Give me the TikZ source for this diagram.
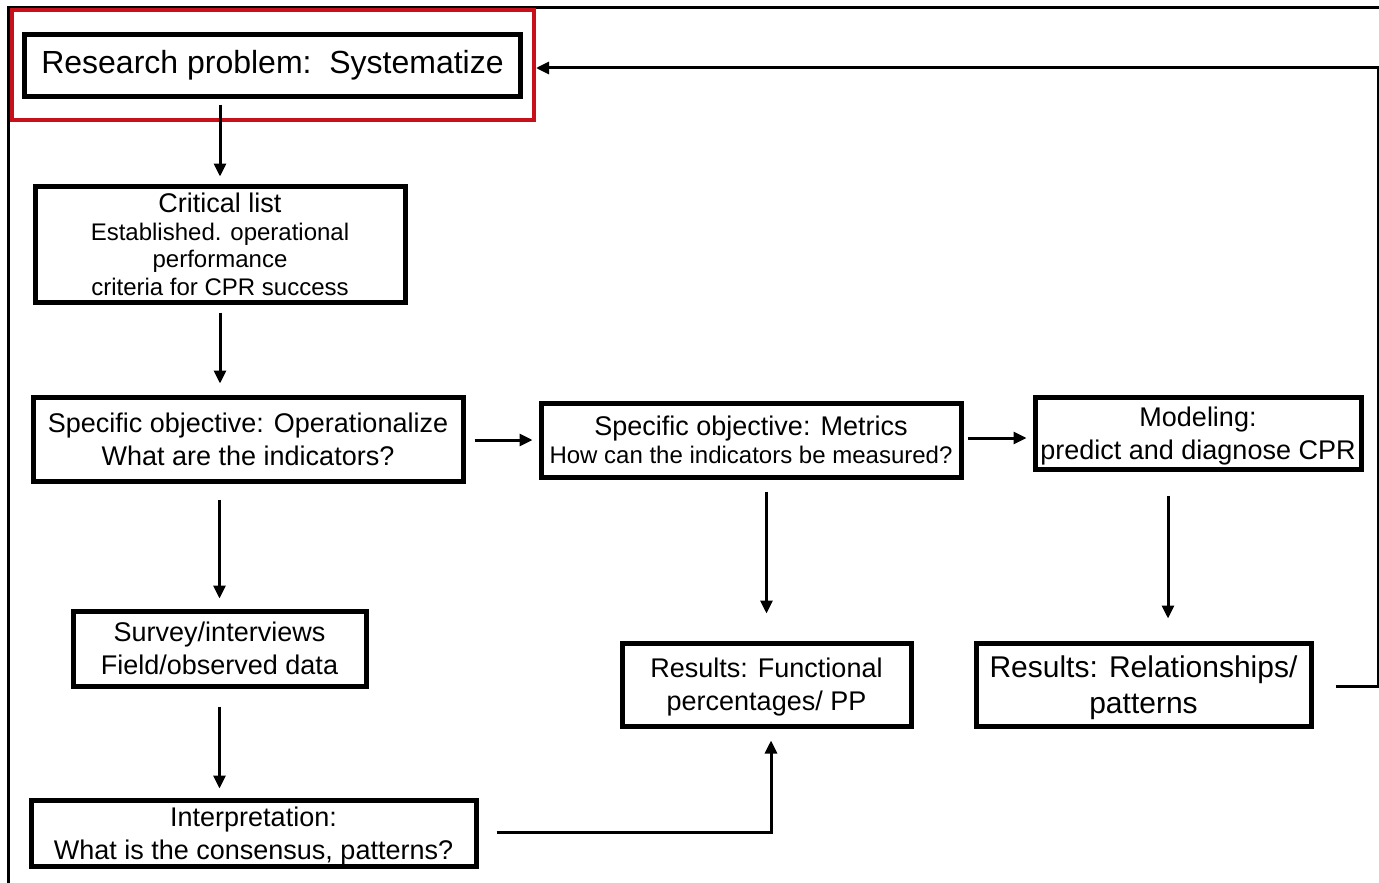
\documentclass[tikz,border=0pt]{standalone}
\usepackage{fontspec}
\setmainfont{Liberation Sans}
\usetikzlibrary{arrows.meta}
\definecolor{boxred}{HTML}{C8101A}
\begin{document}
\begin{tikzpicture}[x=1pt,y=-1pt,
  box/.style={draw=black,line width=5pt,rectangle,inner sep=0pt,align=center,
    text depth=0pt,font=\fontsize{27}{33}\selectfont},
  arr/.style={line width=3pt,-{Triangle[length=13pt,width=12pt]}}]
\useasboundingbox (0,0) rectangle (1379,883);
% outer frame
\draw[line width=3pt] (8,883) -- (8,8) -- (1379,8);
% red highlight
\draw[boxred,line width=4pt] (11.5,10.5) rectangle (533.5,119.5);

\node[box,text depth=,minimum width=496pt,minimum height=61pt,font=\fontsize{32}{36}\selectfont] (rp) at (272.5,65.5) {Research problem:\ \ Systematize};
\node[box,minimum width=370pt,minimum height=116pt,font=\fontsize{24}{27.5}\selectfont] (cl) at (220,244)
  {{\fontsize{27}{27.5}\selectfont Critical list}\\Established. operational\\performance\\criteria for CPR success};
\node[box,minimum width=430pt,minimum height=84pt] (so) at (248,439)
  {Specific objective: Operationalize\\What are the indicators?};
\node[box,minimum width=420pt,minimum height=74pt,font=\fontsize{24}{28}\selectfont] (me) at (751,440)
  {{\fontsize{27}{28}\selectfont Specific objective: Metrics}\\How can the indicators be measured?};
\node[box,minimum width=326pt,minimum height=72pt] (mo) at (1198,433)
  {Modeling:\\predict and diagnose CPR};
\node[box,minimum width=293pt,minimum height=75pt] (sv) at (219.5,648.5)
  {Survey/interviews\\Field/observed data};
\node[box,minimum width=289pt,minimum height=83pt] (rf) at (766.5,684.5)
  {Results: Functional\\percentages/ PP};
\node[box,minimum width=335pt,minimum height=83pt,font=\fontsize{30}{36}\selectfont] (rr) at (1143.5,684.5)
  {Results: Relationships/\\patterns};
\node[box,minimum width=445pt,minimum height=66pt] (ip) at (253.5,833)
  {Interpretation:\\What is the consensus, patterns?};

% connectors
\draw[arr,shorten <=6pt,shorten >=7pt] (rp.south -| cl.north) -- (cl.north);
\draw[arr,shorten <=8pt,shorten >=11pt] (cl.south) -- (cl.south |- so.north);
\draw[arr,shorten <=16pt,shorten >=10pt] (so.south -| sv.north) -- (sv.north);
\draw[arr,shorten <=18pt,shorten >=9pt] (sv.south) -- (sv.south |- ip.north);
\draw[arr,shorten <=9pt,shorten >=6pt] (so.east |- me.west) -- (me.west);
\draw[arr,shorten <=4pt,shorten >=6pt] (me.east |- 0,438) -- (mo.west |- 0,438);
\draw[arr,shorten <=12pt,shorten >=27pt] (me.south -| rf.north) -- (rf.north);
\draw[arr,shorten <=24pt,shorten >=22pt] (mo.south -| 1168,0) -- (rr.north -| 1168,0);
\coordinate (c1) at (771,832);
\draw[arr,shorten >=12pt] (ip.east |- c1) ++(18pt,0) -- (c1) -- (rf.south -| c1);
\coordinate (c2) at (1378,686);
\coordinate (c3) at (1378,68);
\coordinate (c4) at (536,68);
\draw[arr] (rr.east |- c2) ++(22pt,0) -- (c2) -- (c3) -- (c4);
\end{tikzpicture}
\end{document}
